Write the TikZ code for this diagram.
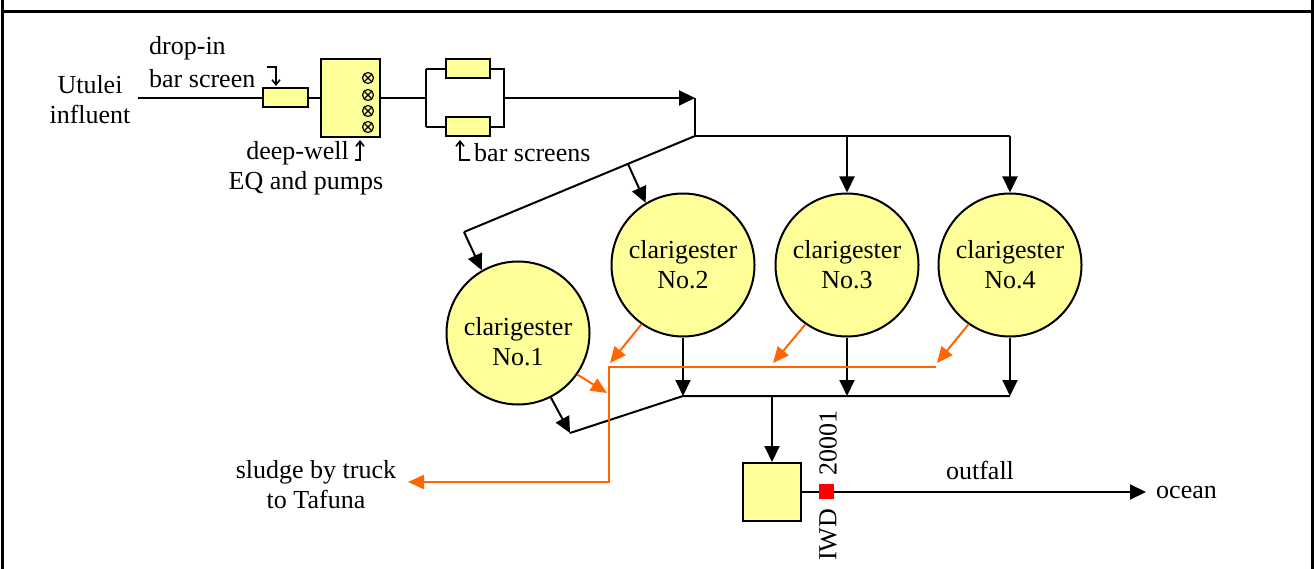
\documentclass[tikz,border=0pt]{standalone}
\usepackage{fontspec}
\setmainfont{Liberation Serif}
\usetikzlibrary{arrows.meta}
\definecolor{fillY}{HTML}{FFFF99}
\definecolor{orng}{HTML}{FF6600}
\begin{document}
\begin{tikzpicture}[x=1pt,y=-1pt,
  font=\fontsize{26}{30}\selectfont,
  ln/.style={line width=2pt},
  arr/.style={line width=2pt,-{Triangle[length=16pt,width=15pt]}},
  oarr/.style={line width=2pt,orng,-{Triangle[length=16pt,width=14pt]}},
  box/.style={draw,line width=2pt,fill=fillY,inner sep=0pt},
  clar/.style={circle,draw,line width=2pt,fill=fillY,minimum size=143pt,inner sep=0pt,align=center},
  lbl/.style={inner sep=0pt,align=center},
  hook/.style={line width=1.6pt,-{Straight Barb[length=5pt,width=8pt]}},
  pump/.style={line width=1.2pt}
]
\useasboundingbox (0,0) rectangle (1314,569);
\draw[line width=3pt] (2,0) -- (2,569) (1312,0) -- (1312,569) (2,12) -- (1312,12);

% inlet
\node[lbl] (ut) at (90,100) {Utulei\\influent};
\coordinate (in) at (138,98);
\node[box,minimum width=45pt,minimum height=19pt] (drop) at (285.5,98) {};
\node[box,minimum width=59pt,minimum height=78pt] (dw) at (350,98) {};
\foreach \yy in {78,95,111,127}{
  \draw[pump] (368,\yy) circle (5.5pt);
  \draw[pump] (364.1,\yy-3.9) -- (371.9,\yy+3.9) (364.1,\yy+3.9) -- (371.9,\yy-3.9);
}
\coordinate (sp) at (426,98);
\coordinate (spt) at (426,69);
\coordinate (spb) at (426,127);
\node[box,minimum width=44pt,minimum height=19pt] (bs1) at (468,69) {};
\node[box,minimum width=44pt,minimum height=19pt] (bs2) at (468,127) {};
\coordinate (jn) at (504,98);
\coordinate (jnt) at (504,69);
\coordinate (jnb) at (504,127);
\coordinate (dist) at (695,98);
\coordinate (hd) at (695,136);

% labels top-left
\node[lbl,anchor=west] (dropin) at (149,48) {drop-in};
\node[lbl,anchor=west] (barsc) at (149,79) {bar screen};
\node[lbl,anchor=east] (deepw) at (349,153) {deep-well};
\node[lbl] (eq) at (306,183) {EQ and pumps};
\node[lbl,anchor=west] (bsc) at (474,153) {bar screens};
\draw[hook] (267,67) -- (276,67) -- (276,86);
\draw[hook] (355,160) -- (360,160) -- (360,140);
\draw[hook] (470,160) -- (460,160) -- (460,140);

% clarigesters
\node[clar] (c1) at (518,333) {};
\node[lbl] (c1t) at ([yshift=-9pt]c1.center) {clarigester\\No.1};
\node[clar] (c2) at (683,265) {clarigester\\No.2};
\node[clar] (c3) at (847,265) {clarigester\\No.3};
\node[clar] (c4) at (1010,265) {clarigester\\No.4};
\coordinate (hdr) at (c4.north |- hd);
\coordinate (diag) at (464,232);
\coordinate (br) at (628,164);

\draw[ln] (in) -- (drop.west) (drop.east) -- (dw.west) (dw.east) -- (sp)
  (spt) -- (spb) (spt) -- (bs1.west) (spb) -- (bs2.west)
  (bs1.east) -- (jnt) -- (jnb) -- (bs2.east);
\draw[arr] (jn) -- (dist);
\draw[ln] (dist) -- (hd) -- (hdr);
\draw[arr] (c3.north |- hd) -- (c3.north);
\draw[arr] (hdr) -- (c4.north);
\draw[ln] (hd) -- (diag);
\draw[arr] (diag) -- (c1.120);
\draw[arr] (br) -- (c2.121);

% collector
\coordinate (cl) at (c2.south |- 0,396);
\coordinate (cr) at (c4.south |- 0,396);
\coordinate (co) at (772,396);
\coordinate (kink) at (570,433);
\draw[arr] (c1.-63) -- (kink);
\draw[ln] (kink) -- (cl) -- (cr);
\draw[arr] (c2.south) -- (cl);
\draw[arr] (c3.south) -- (c3.south |- cl);
\draw[arr] (c4.south) -- (cr);

% sludge
\coordinate (ot) at (609,367);
\coordinate (oe) at (936,367);
\coordinate (ob) at (609,482);
\coordinate (o1) at (607,393);
\coordinate (o2) at (610,363);
\coordinate (o3) at (773,363);
\coordinate (o4) at (937,363);
\node[lbl] (sludge) at (316,485) {sludge by truck\\to Tafuna};
\draw[oarr] (oe) -- (ot) -- (ob) -- (408,482);
\draw[oarr] (c1.-35) -- (o1);
\draw[oarr] (c2.-125) -- (o2);
\draw[oarr] (c3.-125) -- (o3);
\draw[oarr] (c4.-125) -- (o4);

% outfall
\node[box,minimum size=58pt] (fb) at (772,492) {};
\draw[arr] (co) -- (fb.north);
\node[lbl,anchor=west] (ocean) at (1156,492) {ocean};
\draw[arr] (fb.east) -- ([xshift=-10pt]ocean.west);
\node[fill=red,minimum size=15pt,inner sep=0pt] (iwd) at (826,491) {};
\node[lbl] (outf) at (980,470) {outfall};
\node[lbl,rotate=90] (n20) at (828,443) {20001};
\node[lbl,rotate=90] (niwd) at (828,535) {IWD};
\end{tikzpicture}
\end{document}
